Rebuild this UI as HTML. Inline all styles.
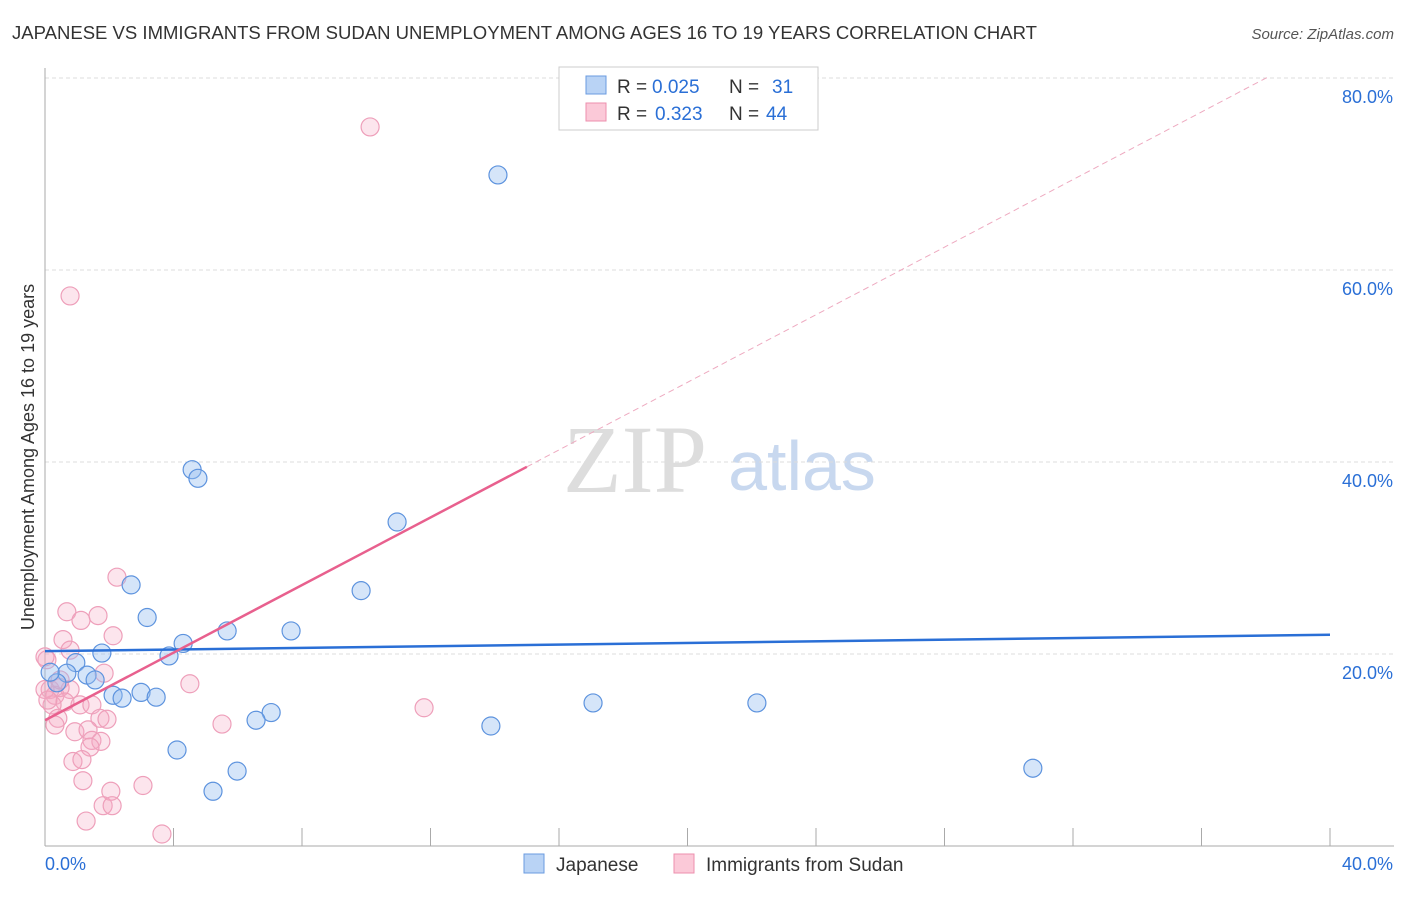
<!DOCTYPE html>
<html><head><meta charset="utf-8"><style>
body{margin:0;background:#fff;font-family:"Liberation Sans",sans-serif}
svg text{font-family:"Liberation Sans",sans-serif}
</style></head><body>
<svg id="c" width="1406" height="892">
<text x="12" y="39" font-size="18" fill="#333" textLength="1025" lengthAdjust="spacingAndGlyphs">JAPANESE VS IMMIGRANTS FROM SUDAN UNEMPLOYMENT AMONG AGES 16 TO 19 YEARS CORRELATION CHART</text>
<text x="1394" y="39" font-size="15" fill="#555" font-style="italic" text-anchor="end">Source: ZipAtlas.com</text>
<text x="0" y="0" font-size="18" fill="#333" text-anchor="middle" transform="translate(34,457) rotate(-90)">Unemployment Among Ages 16 to 19 years</text>
<text x="635" y="492" font-size="96" fill="#ddd" text-anchor="middle" style="font-family:'Liberation Serif',serif">ZIP</text>
<text x="802" y="490" font-size="70" fill="#c8d8ef" text-anchor="middle">atlas</text>
<g id="grid"></g><g id="marks"></g>
<g>
<rect x="559" y="67" width="259" height="63" fill="#fff" stroke="#ccc"/>
<rect x="586" y="76" width="20" height="18" fill="#b9d3f5" stroke="#6a9be0"/>
<rect x="586" y="103" width="20" height="18" fill="#fbc9d8" stroke="#ec8fae"/>
<text x="617" y="93" font-size="19" fill="#333">R =</text>
<text x="652" y="93" font-size="19" fill="#2a6fd6">0.025</text>
<text x="729" y="93" font-size="19" fill="#333">N =</text>
<text x="772" y="93" font-size="19" fill="#2a6fd6">31</text>
<text x="617" y="120" font-size="19" fill="#333">R =</text>
<text x="655" y="120" font-size="19" fill="#2a6fd6">0.323</text>
<text x="729" y="120" font-size="19" fill="#333">N =</text>
<text x="766" y="120" font-size="19" fill="#2a6fd6">44</text>
</g>
<g>
<rect x="524" y="854" width="20" height="19" fill="#b9d3f5" stroke="#6a9be0"/>
<text x="556" y="871" font-size="19" fill="#333">Japanese</text>
<rect x="674" y="854" width="20" height="19" fill="#fbc9d8" stroke="#ec8fae"/>
<text x="706" y="871" font-size="19" fill="#333">Immigrants from Sudan</text>
</g>
</svg>
<script>
const yTicks=[20,40,60,80];
const yTickLabels=["20.0%","40.0%","60.0%","80.0%"];
const xTicks=[0,4,8,12,16,20,24,28,32,36,40];
const japX=[14.10,4.58,4.76,10.96,9.84,2.68,3.18,5.67,7.66,4.30,3.86,1.77,0.96,0.68,1.31,1.56,0.37,0.16,2.12,2.40,2.99,3.46,17.06,22.16,7.04,6.57,13.88,4.11,5.98,30.75,5.23];
const japY=[69.9,39.2,38.3,33.75,26.6,27.2,23.8,22.4,22.4,21.1,19.8,20.1,19.1,18.0,17.8,17.3,17.0,18.1,15.7,15.4,16.0,15.5,14.9,14.9,13.9,13.1,12.5,10.0,7.8,8.1,5.7];
const sudX=[10.12,0.78,2.24,0.68,1.65,1.12,0.56,2.12,0.06,1.84,4.51,0.78,0.16,0.31,0.47,0.62,1.09,0.22,1.46,1.71,1.93,0.40,5.51,11.80,0.93,1.34,1.46,1.74,1.40,0.87,1.15,1.18,3.05,2.05,1.81,2.09,1.28,3.64,0,0,0.47,0.09,0.78,0.31];
const sudY=[74.9,57.3,28.0,24.4,24.0,23.5,21.5,21.9,19.4,18.0,16.9,16.3,16.3,15.7,16.5,15.0,14.7,14.7,14.7,13.3,13.2,13.3,12.7,14.4,11.9,12.1,11.0,10.9,10.3,8.8,9.0,6.8,6.3,5.7,4.2,4.2,2.6,1.25,19.7,16.3,17.3,15.2,20.4,12.6];
const japTrend=[20.3,22.0];
const sudTrend=[13.1,1.76];
const NS="http://www.w3.org/2000/svg";
const X=v=>45+v*32.125, Y=v=>846-v*9.6;
function mk(t,a,p){const e=document.createElementNS(NS,t);for(const k in a)e.setAttribute(k,a[k]);p.appendChild(e);return e;}
const g=document.getElementById('grid'),m=document.getElementById('marks');
yTicks.forEach((v,i)=>{
 const l=mk('line',{x1:45,x2:1394,y1:Y(v),y2:Y(v),stroke:'#ddd','stroke-dasharray':'4,3'},g);
 
 
 const t=mk('text',{x:1393,y:Y(v)+25,'font-size':18,fill:'#2a6fd6','text-anchor':'end'},g);t.textContent=yTickLabels[i];
 
 
});
const ax=mk('line',{x1:45,x2:1394,y1:846,y2:846,stroke:'#aaa'},g);


const ay=mk('line',{x1:45,x2:45,y1:68,y2:846,stroke:'#aaa'},g);


xTicks.forEach(v=>{const l=mk('line',{x1:X(v),x2:X(v),y1:828,y2:846,stroke:'#aaa'},g);
 
 });
[[0,"0.0%",'start',45],[40,"40.0%",'end',1393]].forEach(a=>{const t=mk('text',{x:a[3],y:870,'font-size':18,fill:'#2a6fd6','text-anchor':a[2]},g);t.textContent=a[1];
 
 });
sudX.forEach((v,i)=>{const c=mk('circle',{cx:X(v),cy:Y(sudY[i]),r:9,fill:'rgba(246,170,196,0.3)',stroke:'#ee9fba','stroke-width':1.2},m);
 
 });
japX.forEach((v,i)=>{const c=mk('circle',{cx:X(v),cy:Y(japY[i]),r:9,fill:'rgba(150,190,240,0.4)',stroke:'#5d93de','stroke-width':1.2},m);
 
 });
const jl=mk('line',{x1:X(0),y1:Y(japTrend[0]),x2:X(40),y2:Y(japTrend[1]),stroke:'#2a6fd6','stroke-width':2.5},m);


const sl=mk('line',{x1:X(0),y1:Y(sudTrend[0]),x2:X(15),y2:Y(sudTrend[0]+15*sudTrend[1]),stroke:'#e8608e','stroke-width':2.5},m);


const xe=38.1;
const sd=mk('line',{x1:X(15),y1:Y(sudTrend[0]+15*sudTrend[1]),x2:X(xe),y2:Y(sudTrend[0]+xe*sudTrend[1]),stroke:'#eeaac0','stroke-width':1,'stroke-dasharray':'6,4'},m);


</script>
</body></html>
